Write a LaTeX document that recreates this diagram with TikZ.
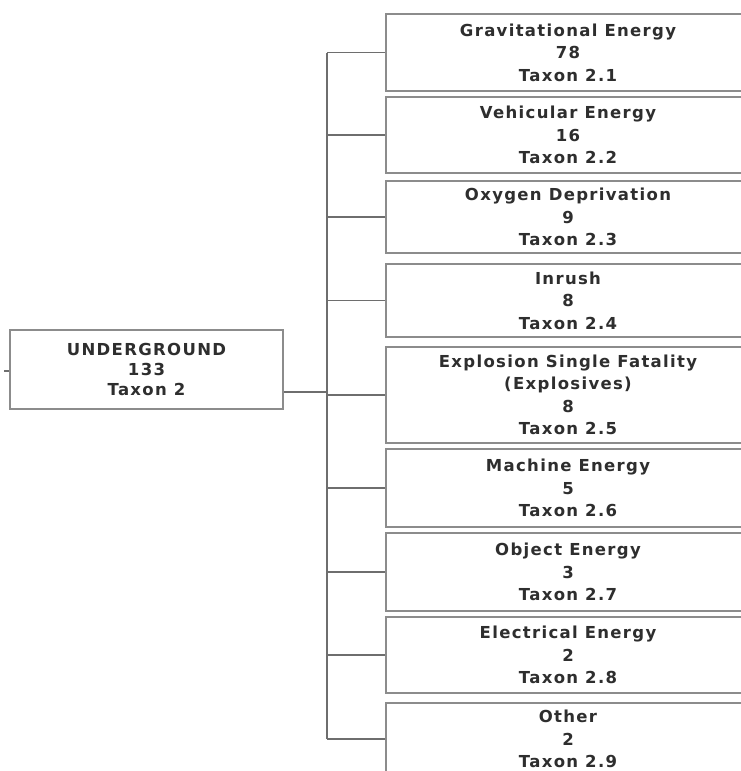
\documentclass[tikz,border=0pt]{standalone}
\usepackage{fontspec}
\setmainfont{DejaVu Sans}[LetterSpace=8]
\definecolor{boxline}{HTML}{8C8C8C}
\definecolor{conline}{HTML}{6E6E6E}
\definecolor{txt}{HTML}{2E2E2E}
\tikzset{
  catbox/.style={draw=boxline, line width=2pt, fill=white, minimum width=364pt, inner sep=0pt,
    align=center, text=txt, font=\fontsize{16.5}{22.5}\selectfont\bfseries},
  rootbox/.style={draw=boxline, line width=2pt, fill=white, minimum width=273pt, minimum height=79pt,
    inner sep=0pt, align=center, text=txt, font=\fontsize{16.5}{20}\selectfont\bfseries},
  conn/.style={draw=conline, line width=1.8pt}
}
\begin{document}
\begin{tikzpicture}[x=1pt,y=-1pt]
\useasboundingbox[fill=white] (0,0) rectangle (740,771);
\node[rootbox] (root) at (146.5,369.5) {UNDERGROUND\\133\\Taxon 2};
\node[catbox, minimum height=77pt] (b1) at (568,52.5) {Gravitational Energy\\78\\Taxon 2.1};
\node[catbox, minimum height=76pt] (b2) at (568,135) {Vehicular Energy\\16\\Taxon 2.2};
\node[catbox, minimum height=72pt] (b3) at (568,217) {Oxygen Deprivation\\9\\Taxon 2.3};
\node[catbox, minimum height=73pt] (b4) at (568,300.5) {Inrush\\8\\Taxon 2.4};
\node[catbox, minimum height=96pt] (b5) at (568,395) {Explosion Single Fatality\\(Explosives)\\8\\Taxon 2.5};
\node[catbox, minimum height=78pt] (b6) at (568,488) {Machine Energy\\5\\Taxon 2.6};
\node[catbox, minimum height=78pt] (b7) at (568,572) {Object Energy\\3\\Taxon 2.7};
\node[catbox, minimum height=76pt] (b8) at (568,655) {Electrical Energy\\2\\Taxon 2.8};
\node[catbox, minimum height=72pt] (b9) at (568,739) {Other\\2\\Taxon 2.9};
\coordinate (j) at (327,392);
\coordinate (lt) at (4,371);
\draw[conn] (lt) -- (root.west |- lt);
\draw[conn] (root.east |- j) -- (j);
\draw[conn] (b1.west -| j) -- (b9.west -| j);
\foreach \b in {b1,b2,b3,b4,b5,b6,b7,b8,b9}{
  \draw[conn] (\b.west -| j) -- (\b.west);
}
\end{tikzpicture}
\end{document}
